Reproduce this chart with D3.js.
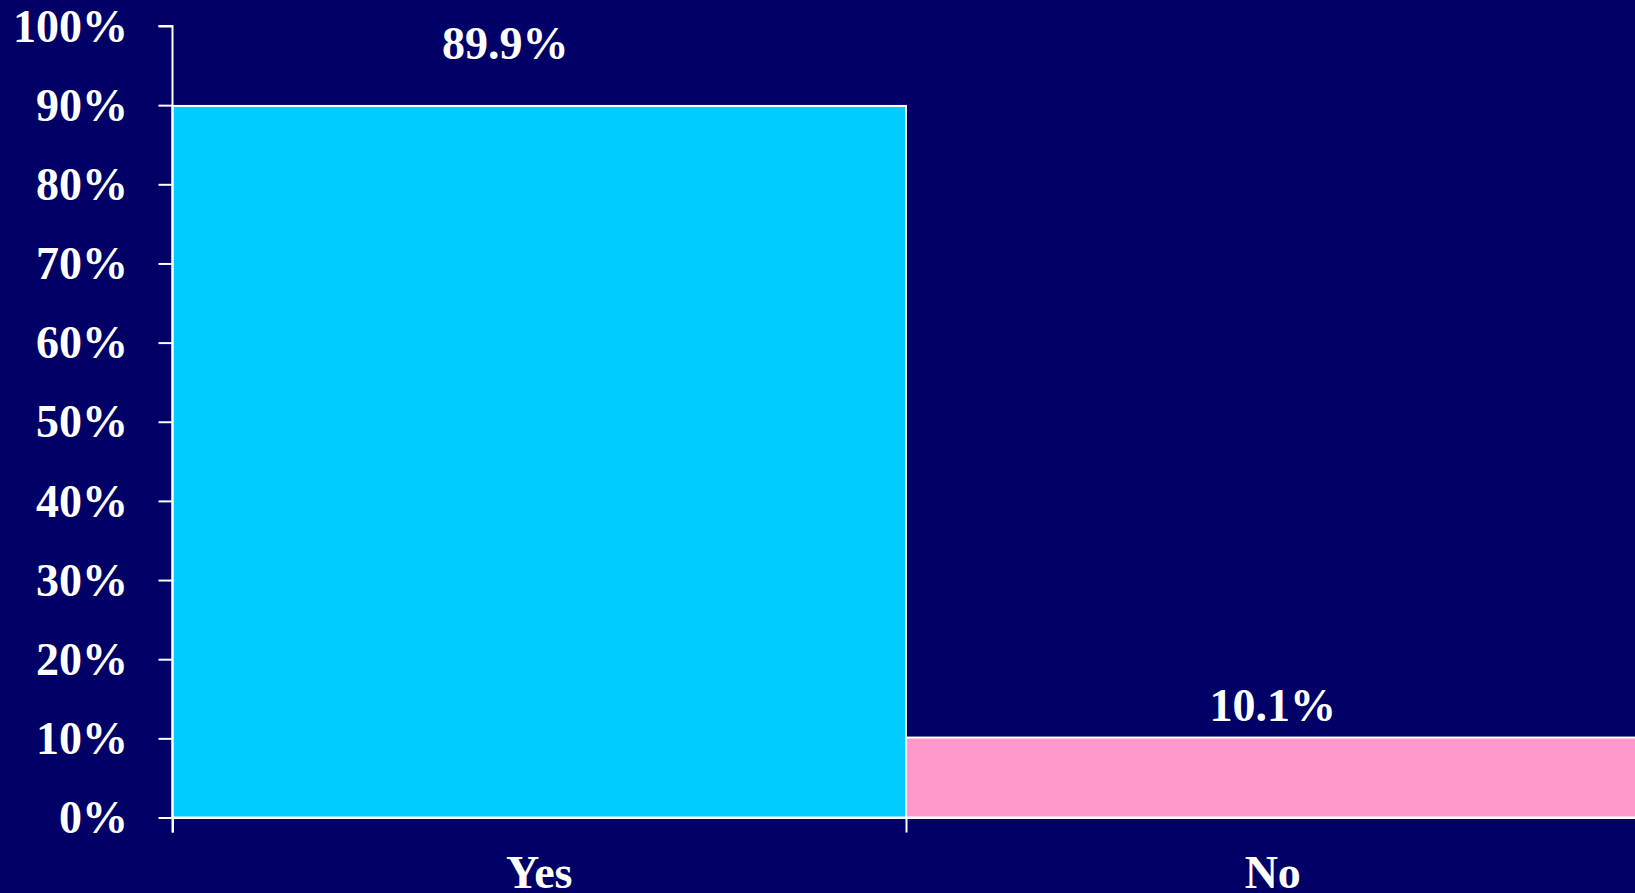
<!DOCTYPE html>
<html>
<head>
<meta charset="utf-8">
<script src="https://cdn.jsdelivr.net/npm/d3@7/dist/d3.min.js"></script>
<style>
  html, body { margin: 0; padding: 0; background: #000066; overflow: hidden; }
  svg { display: block; }
  text { font-family: "Liberation Serif", "Times New Roman", serif; font-weight: bold; fill: #ffffff; }
</style>
</head>
<body>
<svg id="chart" width="1635" height="893"></svg>
<script>
// Survey answers and their shares (percent)
const categories = ["Yes", "No"];
const values = [89.9, 10.1];
const valueLabels = ["89.9%", "10.1%"];
const barColors = ["#00CCFF", "#FF99CC"];
const yTicks = [0, 10, 20, 30, 40, 50, 60, 70, 80, 90, 100];

// Layout
const width = 1635, height = 893;
const plotLeft = 172.5, plotTop = 26, plotBottom = 817.5;
const bandWidth = 733.5;
const fontSize = 46;
// per-bar label placement relative to the bar top / band centre
const labelShift = [{ dx: -34, dy: -46.5 }, { dx: 0, dy: -16.5 }];

const svg = d3.select("#chart");
svg.append("rect").attr("width", width).attr("height", height).attr("fill", "#000066");

const x = d3.scaleBand()
  .domain(categories)
  .range([plotLeft, plotLeft + bandWidth * categories.length])
  .padding(0);

const y = d3.scaleLinear().domain([0, 100]).range([plotBottom, plotTop]);

// Bars
svg.append("g").selectAll("rect")
  .data(categories)
  .join("rect")
  .attr("x", d => x(d))
  .attr("y", (d, i) => y(values[i]))
  .attr("width", x.bandwidth())
  .attr("height", (d, i) => y(0) - y(values[i]))
  .attr("fill", (d, i) => barColors[i])
  .attr("stroke", "#ffffff")
  .attr("stroke-width", 2);

// Value axis
const yAxis = svg.append("g")
  .attr("transform", `translate(${plotLeft},0)`)
  .call(d3.axisLeft(y).tickValues(yTicks).tickFormat(d => d + "%").tickSize(14).tickPadding(30.5));
yAxis.select(".domain").attr("stroke", "#ffffff").attr("stroke-width", 2)
  .attr("d", `M-14,${y(100)}H0V${plotBottom + 15}`);
yAxis.selectAll(".tick line").attr("stroke", "#ffffff").attr("stroke-width", 2);
yAxis.selectAll(".tick text")
  .attr("font-size", fontSize)
  .attr("font-family", "Liberation Serif, Times New Roman, serif")
  .attr("font-weight", "bold")
  .attr("fill", "#ffffff")
  .attr("dy", "0.33em");

// Category axis: baseline plus boundary ticks between bands
const xEdges = d3.scaleLinear().domain([0, categories.length])
  .range([plotLeft, plotLeft + bandWidth * categories.length]);
const xAxis = svg.append("g")
  .attr("transform", `translate(0,${plotBottom})`)
  .call(d3.axisBottom(xEdges).tickValues(d3.range(categories.length + 1)).tickFormat("").tickSize(15).tickSizeOuter(0));
xAxis.select(".domain").attr("stroke", "#ffffff").attr("stroke-width", 2);
xAxis.selectAll(".tick line").attr("stroke", "#ffffff").attr("stroke-width", 2);

// Category labels
svg.append("g").selectAll("text")
  .data(categories)
  .join("text")
  .attr("x", d => x(d) + x.bandwidth() / 2)
  .attr("y", plotBottom + 70.5)
  .attr("text-anchor", "middle")
  .attr("font-size", fontSize)
  .text(d => d);

// Value labels above bars
svg.append("g").selectAll("text")
  .data(categories)
  .join("text")
  .attr("x", (d, i) => x(d) + x.bandwidth() / 2 + labelShift[i].dx)
  .attr("y", (d, i) => y(values[i]) + labelShift[i].dy)
  .attr("text-anchor", "middle")
  .attr("font-size", fontSize)
  .text((d, i) => valueLabels[i]);
</script>
</body>
</html>
